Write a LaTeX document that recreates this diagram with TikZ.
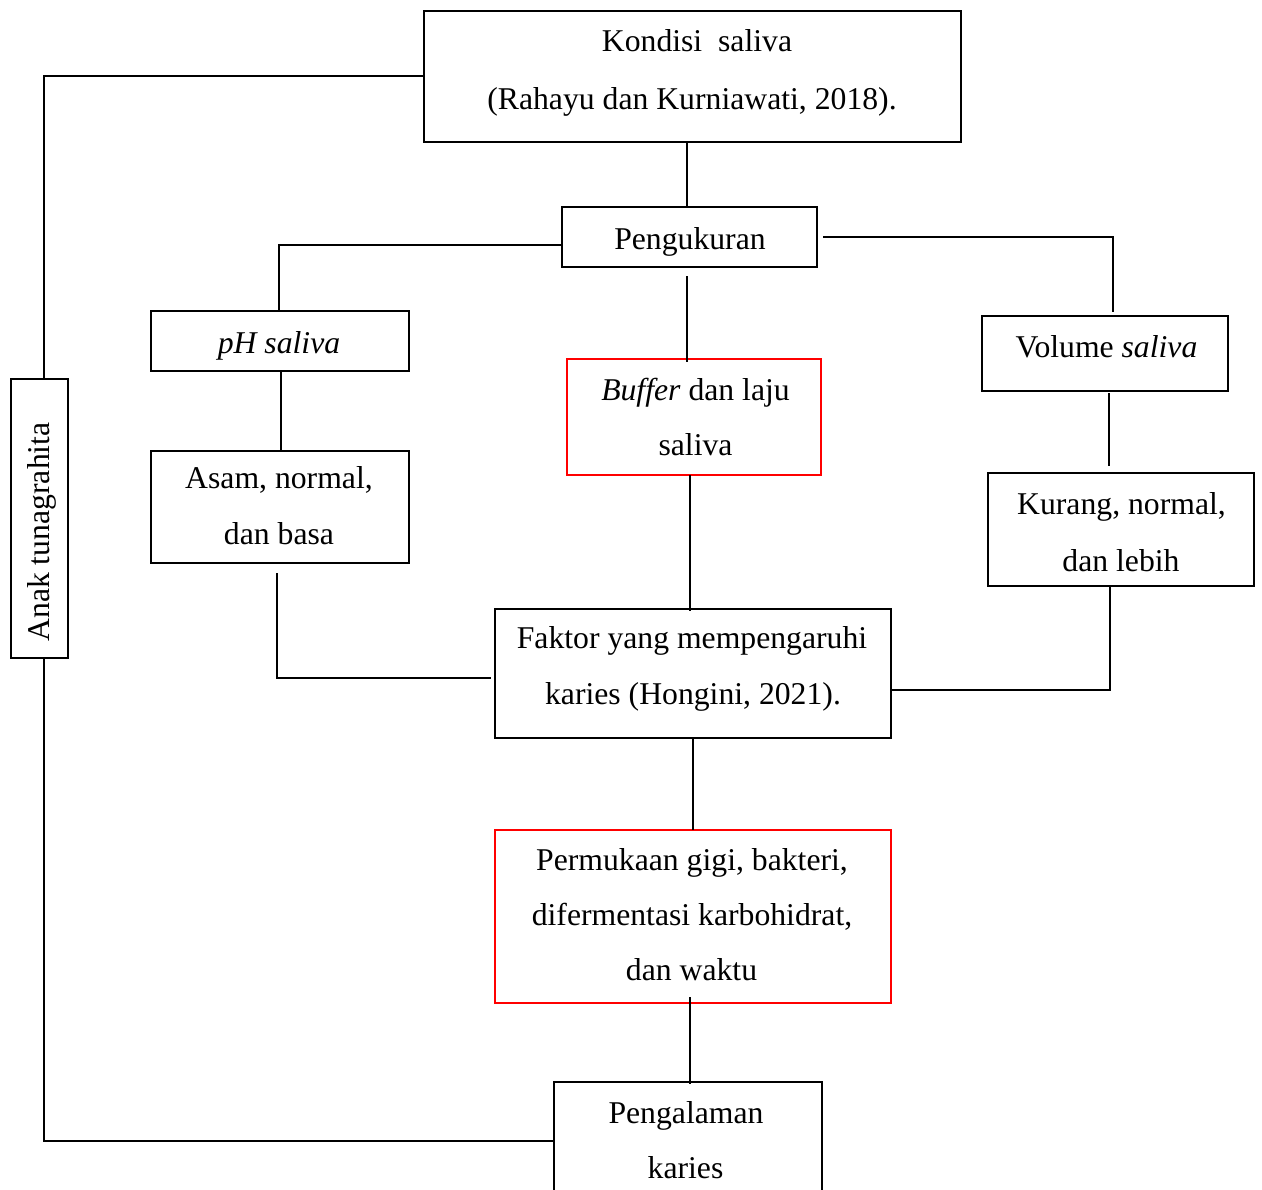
\documentclass[tikz,border=0pt]{standalone}
\usepackage{fontspec}
\setmainfont{Liberation Serif}
\usetikzlibrary{fit}
\definecolor{boxred}{RGB}{255,0,0}
\tikzset{
  box/.style={draw=black, line width=1pt, inner sep=0pt, rectangle},
  redbox/.style={draw=boxred, line width=1pt, inner sep=0pt, rectangle},
  txt/.style={inner sep=0pt, anchor=base, font=\fontsize{15.85}{19}\selectfont},
  conn/.style={draw=black, line width=0.75pt}
}
\begin{document}
\begin{tikzpicture}[x=0.5pt,y=-0.5pt]
\clip (0,0) rectangle (1262,1189);
\fill[white] (0,0) rectangle (1262,1189);
% boxes
\node[box, fit={(424,11)(961,142)}] (kond) {};
\node[box, fit={(562,207)(817,267)}] (peng) {};
\node[box, fit={(151,311)(409,371)}] (ph) {};
\node[box, fit={(982,316)(1228,391)}] (vol) {};
\node[redbox, fit={(567,359)(821,475)}] (buf) {};
\node[box, fit={(151,451)(409,563)}] (asam) {};
\node[box, fit={(988,473)(1254,586)}] (kur) {};
\node[box, fit={(495,609)(891,738)}] (fak) {};
\node[redbox, fit={(495,830)(891,1003)}] (perm) {};
\node[box, fit={(554,1082)(822,1215)}] (pgl) {};
\node[box, fit={(11,379)(68,658)}] (anak) {};
% texts
\node[txt] (kond1) at (697,51) {Kondisi\ \ saliva};
\node[txt] (kond2) at (692,109) {(Rahayu dan Kurniawati, 2018).};
\node[txt] (pengt) at (690,249) {Pengukuran};
\node[txt] (pht) at (279,353) {\itshape pH saliva};
\node[txt] (volt) at (1106.5,357) {Volume \textit{saliva}};
\node[txt] (buf1) at (695.5,400) {\textit{Buffer} dan laju};
\node[txt] (buf2) at (695.5,455) {saliva};
\node[txt] (asam1) at (279,488) {Asam, normal,};
\node[txt] (asam2) at (279,544) {dan basa};
\node[txt] (kur1) at (1121.5,514) {Kurang, normal,};
\node[txt] (kur2) at (1121,571) {dan lebih};
\node[txt] (fak1) at (692,648) {Faktor yang mempengaruhi};
\node[txt] (fak2) at (693,704) {karies (Hongini, 2021).};
\node[txt] (perm1) at (692,870) {Permukaan gigi, bakteri,};
\node[txt] (perm2) at (692,925) {difermentasi karbohidrat,};
\node[txt] (perm3) at (691.5,980) {dan waktu};
\node[txt] (pgl1) at (686,1123) {Pengalaman};
\node[txt] (pgl2) at (685.5,1178) {karies};
\node[txt, rotate=90] (anakt) at (49,532) {Anak tunagrahita};
% connector corner coordinates
\coordinate (cTL) at (44,76);
\coordinate (cBL) at (44,1141);
\coordinate (cPL) at (279,245);
\coordinate (cPR) at (1113,237);
\coordinate (cAB) at (277,678);
\coordinate (cKB) at (1110,690);
% connectors
\draw[conn] (kond.west |- cTL) -- (cTL) -- (cTL |- anak.north);
\draw[conn] (cBL |- anak.south) -- (cBL) -- (cBL -| pgl.west);
\draw[conn] (687,142) -- (687,207);
\draw[conn] (peng.west |- cPL) -- (cPL) -- (cPL |- ph.north);
\draw[conn, shorten <=2.5pt] (peng.east |- cPR) -- (cPR) -- ([yshift=1.5pt]cPR |- vol.north);
\draw[conn, shorten <=4.5pt] (687,267) -- (687,362);
\draw[conn] (281,371) -- (281,451);
\draw[conn, shorten <=4.5pt, shorten >=1.5pt] (cAB |- asam.south) -- (cAB) -- (cAB -| fak.west);
\draw[conn] (690,475) -- (690,611);
\draw[conn, shorten <=1pt, shorten >=3.5pt] (1109,391) -- (1109,473);
\draw[conn] (cKB |- kur.south) -- (cKB) -- (cKB -| fak.east);
\draw[conn] (693,738) -- (693,830);
\draw[conn] (690,997) -- (690,1084);
\end{tikzpicture}
\end{document}
